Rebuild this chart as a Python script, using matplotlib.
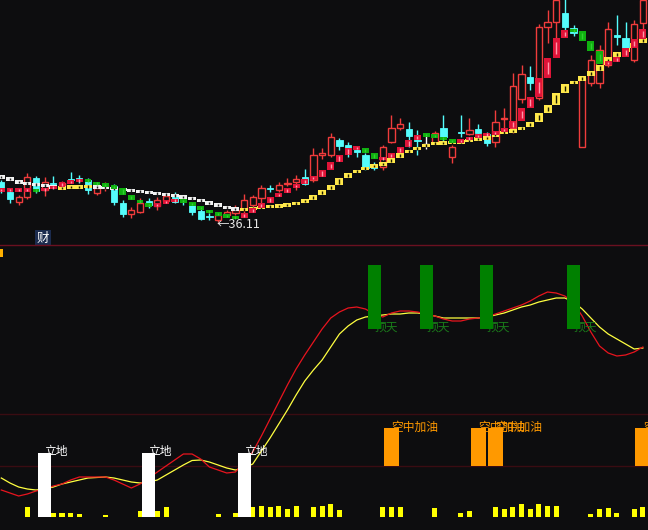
import numpy as np
import matplotlib.pyplot as plt
from matplotlib.patches import Rectangle

plt.rcParams['font.family'] = ['Noto Sans CJK SC', 'DejaVu Sans']

# ---------------- 主图 K线 ----------------
opens = [40.1, 39.1, 38.1, 38.6, 40.5, 39.3, 40.0, 39.7, 40.4, 40.5,
         40.3, 39.0, 39.7, 39.7, 38.0, 36.9, 37.1, 38.2, 37.7, 38.2,
         38.9, 38.2, 38.0, 37.2, 36.7, 36.3, 36.8, 37.0, 37.4, 37.8,
         38.5, 39.5, 39.3, 39.9, 40.1, 40.6, 40.3, 42.8, 42.8, 44.3,
         43.8, 43.3, 42.8, 41.8, 41.6, 44.1, 45.5, 45.4, 44.3, 43.9,
         44.0, 45.5, 42.6, 45.1, 44.9, 45.4, 44.9, 44.1, 46.4, 45.5,
         48.4, 50.6, 48.5, 55.6, 56.1, 57.0, 55.5, 43.6, 50.0, 50.0,
         51.8, 54.8, 54.5, 52.3, 56.0]
closes = [39.3, 38.4, 38.6, 40.6, 39.2, 40.1, 39.9, 40.0, 40.3, 40.4,
          39.3, 39.5, 39.8, 38.1, 36.9, 37.3, 38.0, 37.8, 38.3, 38.7,
          38.1, 38.1, 37.1, 36.4, 36.6, 36.8, 37.1, 37.3, 38.3, 38.6,
          39.5, 39.4, 39.8, 40.0, 40.4, 39.9, 42.8, 43.0, 44.6, 43.7,
          43.4, 43.1, 41.5, 41.5, 43.6, 45.5, 45.9, 44.7, 44.2, 43.9,
          45.0, 44.6, 43.6, 45.0, 45.3, 45.0, 44.0, 46.1, 46.5, 49.7,
          50.9, 50.0, 55.6, 56.1, 58.3, 55.6, 55.0, 50.5, 52.3, 53.3,
          55.4, 54.6, 53.5, 55.9, 58.3]
highs = [40.3, 39.4, 38.8, 41.0, 40.7, 40.6, 40.7, 40.2, 41.1, 40.8,
         40.5, 39.7, 40.1, 39.9, 38.3, 37.6, 38.5, 38.5, 38.6, 39.0,
         39.1, 38.4, 38.1, 37.5, 37.0, 37.0, 37.3, 37.8, 38.9, 38.8,
         39.8, 39.8, 40.1, 40.5, 40.8, 41.4, 43.5, 43.5, 45.0, 44.5,
         44.1, 43.5, 43.0, 42.1, 43.8, 46.8, 46.5, 46.1, 45.3, 44.8,
         45.2, 46.8, 43.8, 46.8, 46.5, 45.9, 45.1, 47.3, 47.5, 51.0,
         51.8, 51.7, 55.9, 57.3, 58.8, 58.8, 55.8, 50.5, 52.8, 53.8,
         56.1, 56.8, 56.1, 56.3, 58.8]
lows = [39.0, 38.0, 37.8, 38.4, 39.0, 38.7, 39.5, 39.5, 40.0, 40.0,
        38.9, 38.8, 39.2, 37.8, 36.6, 36.5, 37.0, 37.5, 37.3, 38.0,
        38.0, 37.8, 36.8, 36.3, 36.3, 36.11, 36.6, 36.8, 37.0, 37.6,
        37.6, 39.1, 39.1, 39.7, 39.3, 39.8, 40.1, 42.4, 42.6, 43.3,
        42.6, 42.6, 41.3, 41.3, 41.3, 44.0, 45.3, 43.6, 42.8, 43.4,
        44.0, 44.0, 42.0, 44.6, 44.8, 44.6, 43.7, 43.6, 45.3, 45.0,
        48.0, 49.3, 48.3, 54.0, 54.3, 55.1, 54.7, 43.6, 49.7, 49.5,
        51.6, 53.8, 53.0, 52.1, 55.3]

# 慢线(黄/白阶梯) 与 快线(红/绿阶梯)
slow_line = [40.6, 40.2, 40.0, 39.9, 39.8, 39.7, 39.5, 39.55, 39.6, 39.65,
             39.65, 39.6, 39.5, 39.4, 39.3, 39.2, 39.1, 39.0, 38.9, 38.8,
             38.7, 38.55, 38.35, 38.15, 37.9, 37.65, 37.45, 37.3, 37.4, 37.5,
             37.6, 37.7, 37.75, 37.85, 38.05, 38.3, 38.8, 39.3, 39.8, 40.5,
             41.0, 41.3, 41.6, 41.8, 42.0, 42.5, 43.0, 43.3, 43.6, 43.9,
             44.0, 44.0, 44.1, 44.1, 44.4, 44.4, 44.6, 45.0, 45.1, 45.3,
             45.6, 46.1, 47.0, 47.8, 49.0, 49.9, 50.2, 50.7, 51.2, 51.8,
             52.6, 53.1, 53.5, 54.0, 54.5]
fast_line = [39.3, 39.3, 39.3, 39.3, 39.2, 39.5, 39.6, 40.1, 40.1, 40.4,
             40.1, 39.8, 39.75, 39.5, 38.8, 38.3, 38.0, 37.6, 38.0, 38.2,
             38.3, 38.1, 37.7, 37.3, 37.0, 36.8, 36.6, 36.5, 37.0, 37.5,
             38.0, 38.6, 39.0, 39.5, 39.9, 40.4, 40.6, 41.3, 42.1, 42.8,
             43.5, 43.5, 43.0, 42.4, 42.5, 43.0, 43.6, 44.3, 44.8, 44.75,
             44.6, 44.3, 44.1, 44.3, 44.6, 44.8, 44.9, 45.1, 45.5, 46.2,
             47.5, 48.6, 50.5, 52.5, 54.5, 55.3, 55.2, 54.2, 53.2, 51.9,
             52.1, 52.6, 53.5, 54.4, 55.4]
low_index = 25
low_label = '←36.11'

# ---------------- 副图 ----------------
red_line = [10.8, 9.6, 8.4, 9.2, 10.4, 11.2, 12.4, 13.2, 14.8, 16.0,
            16.0, 16.0, 16.0, 14.8, 13.2, 11.6, 13.2, 15.6, 18.0, 20.4,
            22.8, 25.2, 25.2, 23.2, 20.0, 18.8, 17.6, 18.0, 22.0, 26.0,
            32.4, 39.2, 46.0, 52.8, 59.2, 64.8, 70.0, 75.2, 79.6, 82.0,
            83.6, 84.0, 83.2, 81.2, 80.0, 81.6, 82.4, 82.4, 82.0, 81.2,
            80.4, 79.2, 78.4, 78.4, 79.2, 79.6, 80.0, 81.2, 82.4, 83.6,
            84.8, 86.4, 88.4, 90.0, 89.6, 88.4, 85.6, 80.4, 74.0, 68.4,
            65.6, 64.4, 64.8, 66.0, 68.0]
yellow_line = [15.6, 13.6, 12.0, 11.2, 10.8, 11.2, 12.0, 13.2, 14.0, 14.8,
               15.6, 15.8, 16.0, 15.6, 14.8, 14.0, 13.6, 14.0, 14.8, 16.8,
               18.8, 20.8, 22.6, 22.8, 22.0, 20.8, 19.6, 18.8, 19.6, 21.2,
               26.4, 31.6, 37.2, 42.8, 48.8, 54.4, 58.8, 62.8, 68.0, 73.2,
               76.4, 78.8, 80.0, 80.4, 80.8, 81.2, 81.2, 81.6, 81.6, 81.2,
               80.4, 79.6, 79.6, 79.6, 79.6, 79.6, 80.0, 80.8, 81.6, 82.8,
               84.0, 84.8, 86.0, 86.8, 87.6, 87.6, 86.0, 83.2, 79.6, 76.0,
               73.2, 71.2, 69.2, 67.2, 67.6]

ground_idx = [5, 17, 28]          # 立地
ground_top = 25.6
sky_idx = [43, 49, 56, 66]        # 顶天
sky_range = (75.2, 100.8)
refuel_idx = [45, 55, 57, 74]     # 空中加油
refuel_range = (20.4, 35.6)

vol_idx = [3, 5, 6, 7, 8, 9, 12, 16, 17, 18, 19, 25, 27, 28, 29, 30, 31, 32, 33, 34,
           36, 37, 38, 39, 44, 45, 46, 50, 53, 54, 57, 58, 59, 60, 61, 62, 63, 64,
           68, 69, 70, 71, 73, 74]
vol_vals = [4.0, 2.0, 1.6, 1.6, 1.6, 1.2, 0.8, 2.4, 0.8, 2.4, 4.0, 1.2, 1.6, 3.2, 4.0,
            4.4, 4.0, 4.4, 3.2, 4.4, 4.0, 4.4, 5.2, 2.8, 4.0, 4.0, 4.0, 3.6, 1.6, 2.4,
            4.0, 3.2, 4.0, 5.2, 3.2, 5.2, 4.4, 4.4, 1.2, 3.2, 3.6, 1.6, 3.2, 4.0]

BG = '#0d0d0f'
RED = '#f03c3c'
CYAN = '#54fcfc'


def draw_candles(ax):
    w = 0.72
    for i in range(len(opens)):
        o, c, h, l = opens[i], closes[i], highs[i], lows[i]
        if c > o:
            # 阳线: 空心红
            ax.vlines(i, c, h, color=RED, lw=1, zorder=2)
            ax.vlines(i, l, o, color=RED, lw=1, zorder=2)
            ax.add_patch(Rectangle((i - w / 2, o), w, c - o, facecolor=BG,
                                   edgecolor=RED, lw=1, zorder=2))
        elif c < o:
            # 阴线: 实心青
            ax.vlines(i, l, h, color=CYAN, lw=1, zorder=2)
            ax.add_patch(Rectangle((i - w / 2, c), w, o - c, facecolor=CYAN,
                                   edgecolor=CYAN, lw=0.6, zorder=2))
        else:
            ax.vlines(i, l, h, color='white', lw=1, zorder=2)
            ax.hlines(o, i - w / 2, i + w / 2, color='white', lw=1, zorder=2)


def draw_ladder(ax, vals, up_col, dn_col, up_mark, dn_mark, width, minh, z):
    n = len(vals)
    up = vals[1] >= vals[0]
    for i in range(n):
        prev = vals[i - 1] if i > 0 else vals[i]
        cur = vals[i]
        if cur > prev:
            up = True
        elif cur < prev:
            up = False
        lo, hi = min(prev, cur), max(prev, cur)
        if hi - lo < minh:
            mid = (lo + hi) / 2
            lo, hi = mid - minh / 2, mid + minh / 2
        col = up_col if up else dn_col
        mark = up_mark if up else dn_mark
        ax.add_patch(Rectangle((i - width / 2, lo), width, hi - lo,
                               facecolor=col, edgecolor='none', zorder=z))
        pad = (hi - lo) * 0.2
        ax.vlines(i, lo + pad, hi - pad, color=mark, lw=1, zorder=z + 0.1)


fig = plt.figure(figsize=(6.48, 5.30), dpi=100, facecolor=BG)
ax = fig.add_axes([0, 285 / 530, 1, 245 / 530])
ax2 = fig.add_axes([0, 0, 1, 280 / 530])
for a in (ax, ax2):
    a.set_facecolor(BG)
    a.set_xlim(-0.15, 74.59)
    a.axis('off')

# 主图
ax.set_ylim(33.8, 58.3)
draw_candles(ax)
draw_ladder(ax, slow_line, '#ffe84a', '#f2f2f2', '#1a1a00', '#202020', 0.92, 0.38, 3)
draw_ladder(ax, fast_line, '#e01438', '#10b010', '#ff96aa', '#30d030', 0.8, 0.38, 4)
ax.text(low_index - 0.15, lows[low_index] - 0.3, low_label, color='#e8e8e8',
        fontsize=9, ha='left', va='center', zorder=5)
ax.text(4.8, 34.5, '财', color='white', fontsize=9, ha='center', va='center',
        bbox=dict(boxstyle='square,pad=0.12', facecolor='#1b2b4e', edgecolor='none'))

# 分隔线
fig.add_artist(plt.Line2D([0, 1], [285 / 530, 285 / 530], color='#6a1020', lw=1))
fig.add_artist(Rectangle((0, (530 - 257) / 530), 3 / 648, 8 / 530,
                         facecolor='#ffb000', edgecolor='none'))

# 副图
ax2.set_ylim(-5.2, 106.8)
for gy in (20.4, 41.2):
    ax2.axhline(gy, color='#3a0c12', lw=1, zorder=0)
x = np.arange(len(red_line))
ax2.plot(x, yellow_line, color='#ffff40', lw=0.9, zorder=2)
ax2.plot(x, red_line, color='#e8141e', lw=0.9, zorder=2)
ax2.bar(vol_idx, vol_vals, width=0.58, color='#ffff00', zorder=2)

for i in ground_idx:
    ax2.bar(i, ground_top, width=1.5, color='white', zorder=3)
    ax2.text(i, ground_top + 0.6, '立地', color='white', fontsize=8.5,
             ha='left', va='center', zorder=4)
for i in sky_idx:
    ax2.text(i, sky_range[0] + 0.8, '顶天', color='#1a7a1a', fontsize=8.5,
             ha='left', va='center', zorder=2.5)
    ax2.bar(i, sky_range[1] - sky_range[0], bottom=sky_range[0], width=1.5,
            color='#008000', zorder=3)
for i in refuel_idx:
    ax2.bar(i, refuel_range[1] - refuel_range[0], bottom=refuel_range[0],
            width=1.73, color='#ff9900', zorder=3)
    ax2.text(i, refuel_range[1] + 0.4, '空中加油', color='#ff9900', fontsize=8.5,
             ha='left', va='center', zorder=4)

fig.savefig('out.png', dpi=100, facecolor=BG)
